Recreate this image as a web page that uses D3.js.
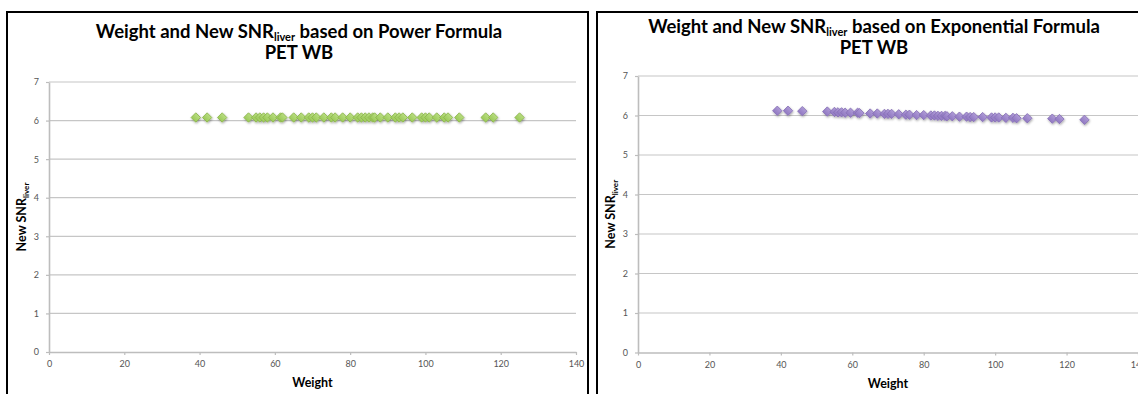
<!DOCTYPE html>
<html>
<head>
<meta charset="utf-8">
<script src="https://cdn.jsdelivr.net/npm/d3@7"></script>
<style>
  html, body { margin: 0; padding: 0; background: #fff; }
  svg { display: block; }
</style>
</head>
<body>
<svg id="chart" width="1138" height="394"></svg>
<script>
// Patient weights (kg), shared by both panels
const weights = [39, 42, 46, 53, 55, 56, 57, 58, 59.5, 61.5,
                 62, 65, 67, 69, 70, 71, 73, 75, 76, 78,
                 80, 82, 83, 84, 85, 86, 86.5, 88, 90, 92,
                 93, 94, 96.5, 99, 100, 101, 103, 105, 106, 109,
                 116, 118, 125];

// New SNR_liver from the power formula
const snrPower = [6.08, 6.08, 6.08, 6.08, 6.08, 6.08, 6.08, 6.08, 6.08, 6.08,
                  6.08, 6.08, 6.08, 6.08, 6.08, 6.08, 6.08, 6.08, 6.08, 6.08,
                  6.08, 6.08, 6.08, 6.08, 6.08, 6.08, 6.08, 6.08, 6.08, 6.08,
                  6.08, 6.08, 6.08, 6.08, 6.08, 6.08, 6.08, 6.08, 6.08, 6.08,
                  6.08, 6.08, 6.08];

// New SNR_liver from the exponential formula
const snrExponential = [6.12, 6.12, 6.11, 6.10, 6.09, 6.08, 6.08, 6.07, 6.07, 6.07,
                        6.06, 6.05, 6.05, 6.04, 6.04, 6.04, 6.03, 6.02, 6.02, 6.01,
                        6.01, 6.00, 6.00, 5.99, 5.99, 5.99, 5.98, 5.98, 5.97, 5.97,
                        5.96, 5.96, 5.96, 5.95, 5.95, 5.95, 5.94, 5.94, 5.93, 5.93,
                        5.92, 5.91, 5.89];

const xTicks = [0, 20, 40, 60, 80, 100, 120, 140];
const yTicks = [0, 1, 2, 3, 4, 5, 6, 7];

const svg = d3.select("#chart");
const FONT = "Lato, 'Open Sans', 'DejaVu Sans', sans-serif";

const defs = svg.append("defs");
const shadow = defs.append("filter").attr("id", "mshadow")
  .attr("x", "-50%").attr("y", "-50%").attr("width", "200%").attr("height", "200%");
shadow.append("feDropShadow").attr("dx", 0.6).attr("dy", 1.2)
  .attr("stdDeviation", 0.9).attr("flood-color", "#000").attr("flood-opacity", 0.35);

function gradient(id, light, dark) {
  const g = defs.append("linearGradient").attr("id", id)
    .attr("x1", 0).attr("y1", 0).attr("x2", 0).attr("y2", 1);
  g.append("stop").attr("offset", "0%").attr("stop-color", light);
  g.append("stop").attr("offset", "100%").attr("stop-color", dark);
}
gradient("gGreen", "#b8dd80", "#9cca5a");
gradient("gPurple", "#ae9ad6", "#9179c2");

function drawPanel(p) {
  const g = svg.append("g");

  // frame
  g.append("rect")
    .attr("x", p.frame[0]).attr("y", p.frame[1])
    .attr("width", p.frame[2]).attr("height", p.frame[3])
    .attr("fill", "#fff").attr("stroke", "#000").attr("stroke-width", 2);

  const x = d3.scaleLinear().domain([0, 140]).range([p.left, p.right]);
  const y = d3.scaleLinear().domain([0, 7]).range([p.bottom, p.top]);

  // horizontal gridlines
  g.append("g").selectAll("line").data(yTicks.filter(t => t > 0)).join("line")
    .attr("x1", p.left).attr("x2", p.right)
    .attr("y1", d => y(d)).attr("y2", d => y(d))
    .attr("stroke", "#c6c6c6").attr("stroke-width", 1.2);

  // axes
  const xAxis = g.append("g").attr("transform", `translate(0,${p.bottom})`)
    .call(d3.axisBottom(x).tickValues(xTicks).tickFormat(d3.format("d"))
      .tickSizeInner(3).tickSizeOuter(0).tickPadding(6));
  const yAxis = g.append("g").attr("transform", `translate(${p.left},0)`)
    .call(d3.axisLeft(y).tickValues(yTicks).tickFormat(d3.format("d"))
      .tickSizeInner(3).tickSizeOuter(0).tickPadding(7));
  [xAxis, yAxis].forEach(a => {
    a.select(".domain").attr("stroke", "#bdbdbd").attr("stroke-width", 1.6);
    a.selectAll(".tick line").attr("stroke", "#bdbdbd").attr("stroke-width", 1.2);
    a.selectAll(".tick text").attr("fill", "#555").attr("font-family", FONT).attr("font-size", 9);
  });

  // markers
  const sym = d3.symbol().type(d3.symbolSquare).size(44);
  g.append("g").attr("filter", "url(#mshadow)")
    .selectAll("path").data(weights.map((w, i) => [w, p.values[i]])).join("path")
    .attr("d", sym)
    .attr("transform", d => `translate(${x(d[0])},${y(d[1])}) rotate(45)`)
    .attr("fill", p.fill).attr("stroke", p.stroke).attr("stroke-width", 0.8);

  // title
  const cx = p.titleX;
  const t1 = g.append("text").attr("x", cx).attr("y", p.titleY)
    .attr("text-anchor", "middle").attr("font-family", FONT)
    .attr("font-weight", "bold").attr("font-size", 18.5).attr("fill", "#000");
  t1.append("tspan").text("Weight and New SNR");
  t1.append("tspan").attr("font-size", 11).attr("dy", 2.5).text("liver");
  t1.append("tspan").attr("dy", -2.5).text(" based on " + p.formula);
  g.append("text").attr("x", cx).attr("y", p.titleY + 21)
    .attr("text-anchor", "middle").attr("font-family", FONT)
    .attr("font-weight", "bold").attr("font-size", 18.5).attr("fill", "#000")
    .text("PET WB");

  // x axis title
  g.append("text").attr("x", (p.left + p.right) / 2).attr("y", p.bottom + 35)
    .attr("text-anchor", "middle").attr("font-family", FONT)
    .attr("font-weight", "bold").attr("font-size", 12.5).attr("fill", "#000")
    .text("Weight");

  // y axis title
  const yt = g.append("text")
    .attr("transform", `translate(${p.yTitleX},${(p.top + p.bottom) / 2}) rotate(-90)`)
    .attr("text-anchor", "middle").attr("font-family", FONT)
    .attr("font-weight", "bold").attr("font-size", 12.5).attr("fill", "#000");
  yt.append("tspan").text("New SNR");
  yt.append("tspan").attr("font-size", 8).attr("dy", 3).text("liver");
}

drawPanel({
  frame: [7, 12, 581, 420],
  left: 49, right: 576, top: 82, bottom: 352,
  titleX: 299, titleY: 38, yTitleX: 26,
  formula: "Power Formula",
  values: snrPower,
  fill: "url(#gGreen)", stroke: "#8bb54c"
});

drawPanel({
  frame: [597, 12, 580, 420],
  left: 638, right: 1138, top: 76, bottom: 352.5,
  titleX: 874, titleY: 33, yTitleX: 615,
  formula: "Exponential Formula",
  values: snrExponential,
  fill: "url(#gPurple)", stroke: "#8670b6"
});
</script>
</body>
</html>
